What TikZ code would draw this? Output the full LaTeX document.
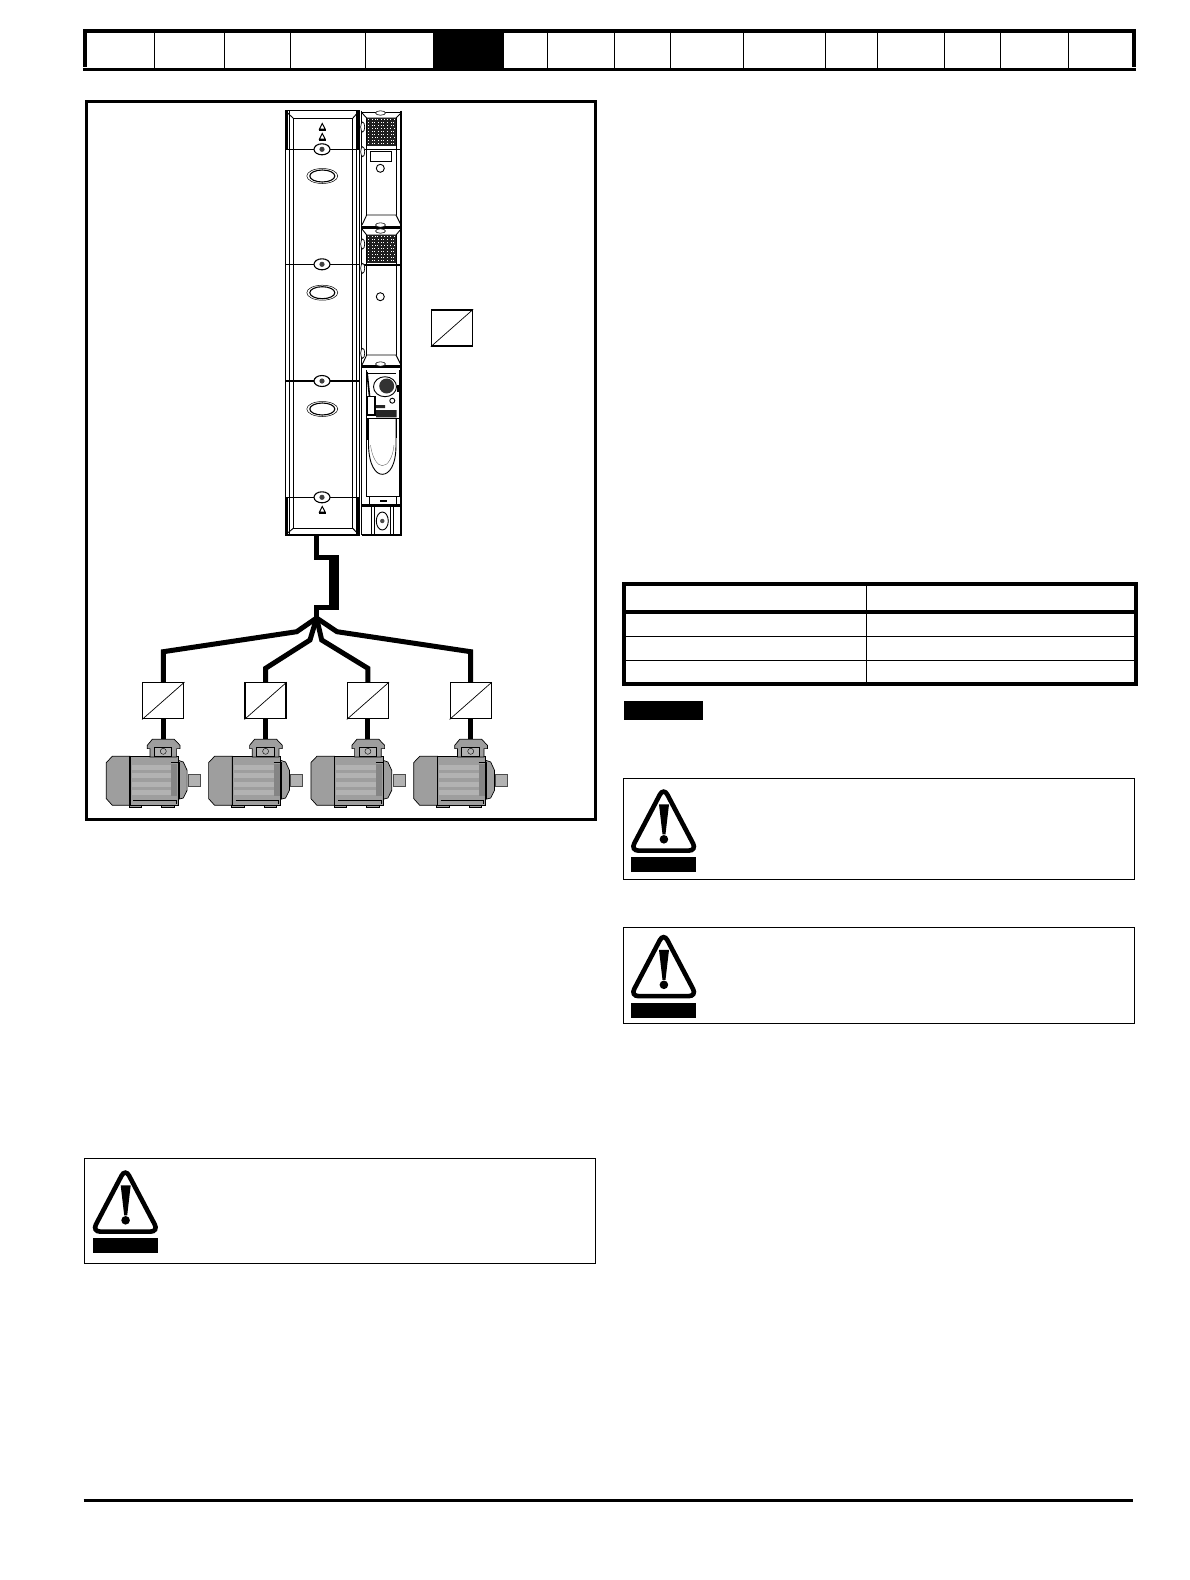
\documentclass[tikz,border=0pt]{standalone}
\usepackage{tikz}
\usetikzlibrary{positioning}

\definecolor{motorgray}{gray}{0.62}
\definecolor{motorlight}{gray}{0.70}
\definecolor{motordark}{gray}{0.52}

\tikzset{
  wire/.style={line width=5pt,line join=miter},
  conv box/.style={rectangle,draw,fill=white,line width=1.3pt,minimum width=41pt,minimum height=36pt,inner sep=0pt},
  warn frame/.style={draw,line width=1pt},
  panel line/.style={line width=0.9pt},
  motor line/.style={draw=black,line width=0.7pt,fill=motorgray},
  motor/.pic={
    \draw[motor line] (-57,23.3) -- (-51,17) -- (-33.3,17) -- (-33.3,66) -- (-51,66) -- (-57,59.3) -- cycle;
    \draw[motor line] (-34,66) rectangle (-21.7,68.3);
    \draw[motor line] (-1.7,66) rectangle (11,68.3);
    \draw[line width=0.5pt,draw=black!70,fill=motorlight] (25,35) rectangle (37,46.7);
    \draw[motor line] (15,21) -- (20,22.7) -- (23.8,31) -- (23.8,51) -- (20,58.7) -- (15,60) -- cycle;
    \draw[motor line] (-33.3,17) rectangle (15,66);
    \foreach \top/\bot in {26/31,34/39,42.5/47.5,51/56}
      \fill[motorlight] (-31.5,\top) rectangle (8,\bot);
    \fill[motordark] (8,25) rectangle (14,57);
    \draw[line width=1.4pt] (-33.3,17) -- (-33.3,66);
    \draw[line width=0.6pt] (-30,60.5) -- (13,60.5) -- (13,65);
    \draw[line width=0.6pt] (8,23) -- (15.5,23) -- (15.5,60);
    \draw[motor line] (-16,6) -- (-11,0) -- (11,0) -- (16.7,6) -- (16.7,9.3) -- (13.3,9.3) -- (13.3,17.7) -- (-13.3,17.7) -- (-13.3,9.3) -- (-16,9.3) -- cycle;
    \draw[motor line,fill=motorlight] (-9,7.7) rectangle (8.3,16.7);
    \draw[line width=0.4pt] (0,12) circle (3pt);
  },
  warnsign/.pic={
    \fill (0,0) rectangle (64.7,15);
    \draw[line width=4.6pt,rounded corners=8pt] (32.3,-69.5) -- (-0.8,-6.4) -- (65.5,-6.4) -- cycle;
    \fill (27.7,-52.7) -- (37.7,-52.7) -- (34.2,-22.7) -- (31.2,-22.7) -- cycle;
    \fill (32.6,-17.7) circle (4.3pt);
  },
  knob/.pic={
    \draw[line width=1.1pt,fill=white] (0,0) ellipse (8pt and 5.5pt);
    \fill[black!75] (0,0) circle (2.6pt);
  },
  big oval/.pic={
    \draw[line width=0.5pt,fill=white] (0,0) ellipse (15.5pt and 7.5pt);
    \draw[line width=1.1pt] (0,0) ellipse (12.5pt and 6pt);
  },
  warn mark/.pic={
    \draw[line width=1pt,fill=white] (0,-3.5) -- (2.8,2) -- (-2.8,2) -- cycle;
    \fill (-3.4,1.6) rectangle (3.4,3.6);
  },
  grille/.pic={
    \fill[black!88] (0,0) rectangle (29.3,27.8);
    \foreach \row in {0,...,8}
      \foreach \col in {0,...,8} {
        \pgfmathsetmacro{\shift}{mod(\row*\row+\col,3)}
        \fill[white] ({1.2+\col*3.1+\shift*0.5},{1.4+\row*3}) rectangle +(0.9,0.9);
      }
  }
}

\begin{document}
\begin{tikzpicture}[x=1pt,y=-1pt]

  \useasboundingbox (0,0) rectangle (1190,1580);

  % header strip
  \fill (83,29) rectangle (1136,32.7);
  \fill (83,67.7) rectangle (1136,70.7);
  \fill (83,29) rectangle (87,66.7);
  \fill (1131.7,29) rectangle (1136,66.7);
  \fill (432.9,29) rectangle (503.6,70);
  \foreach \xpos in {154.6,224.6,290.4,365.7,547.5,614.6,670.7,743.3,825.7,877.3,944.3,1000.3,1068.7}
    \draw[line width=0.9pt] (\xpos,32) -- (\xpos,68);

  % figure frame
  \draw[line width=3pt] (86,101.5) rectangle (595,819);

  % left module
  \draw[line width=1.3pt] (285.8,110.7) rectangle (359.3,535);
  \fill (285.3,110.7) rectangle (288,149);
  \fill (285.3,497) rectangle (288,535);
  \fill (356,110.7) rectangle (358.5,149);
  \fill (356,497) rectangle (358.5,535);
  \draw[panel line] (289.3,110.7) -- (289.3,535) (356.5,110.7) -- (356.5,535);
  \draw[panel line] (293.3,118.3) rectangle (352.7,528.3);
  \draw[panel line] (285.3,110.7) -- (293.3,118.3) (359.3,110.7) -- (352.7,118.3);
  \draw[panel line] (285.3,535) -- (293.3,528.3) (359.3,535) -- (352.7,528.3);
  \foreach \ypos in {149.3,264.3,381,497.3} {
    \draw[line width=1.1pt] (285.3,\ypos) -- (359.3,\ypos);
    \pic at (322,\ypos) {knob};
  }
  \foreach \ypos in {176,292.7,409}
    \pic at (322.3,\ypos) {big oval};
  \foreach \ypos in {127,137,510}
    \pic at (322.3,\ypos) {warn mark};

  % right module
  \draw[line width=1.8pt] (361.5,110.7) -- (361.5,535);
  \draw[line width=1.8pt] (400.8,110.7) -- (400.8,535) -- (361.5,535);
  \draw[line width=1.5pt] (361.5,112.7) -- (400.8,112.7);
  \foreach \ypos in {227.5,366.5,505.5}
    \draw[line width=3pt] (361.5,\ypos) -- (400.8,\ypos);
  \draw[panel line] (366.7,118) -- (366.7,215) (396,118) -- (396,215);
  \draw[panel line] (366.7,235) -- (366.7,355) (396,235) -- (396,355);
  \draw[panel line] (362,113) -- (366.7,118) -- (396,118) -- (401,113);
  \draw[panel line] (362,225) -- (366.7,215) -- (396,215) -- (401,225);
  \draw[panel line] (362,229) -- (366.7,235) -- (396,235) -- (401,229);
  \draw[panel line] (362,365) -- (366.7,355) -- (396,355) -- (401,365);
  \pic at (366.7,118) {grille};
  \pic at (366.7,235) {grille};
  \draw[line width=0.9pt] (361.5,149.3) -- (400.8,149.3);
  \draw[line width=1.4pt] (361.5,265) -- (400.8,265);
  \draw[panel line] (370,151) rectangle (391.7,161.7);
  \draw[panel line] (380.3,168.3) circle (4pt);
  \draw[panel line] (380.3,296.7) circle (4pt);
  \foreach \xpos/\ypos in {380.5/113,380.5/225,380.5/231,380.5/364}
    \draw[line width=0.6pt,fill=white] (\xpos,\ypos) ellipse (5pt and 2.2pt);
  \foreach \ypos in {127,151.7,244,268.3,353.3}
    \draw[line width=0.7pt,fill=white] (362.7,\ypos) ellipse (2pt and 5pt);

  % control panel
  \draw[panel line] (366,370) -- (366,496.7) (399,370) -- (399,496.7);
  \draw[panel line] (368,373) -- (396,373);
  \draw[line width=1.6pt] (367,372) -- (369.5,396);
  \draw[line width=1.6pt] (398,385) -- (398,392);
  \draw[panel line] (385,386.7) ellipse (11.5pt and 10pt);
  \fill[black!80] (386.7,386) circle (7.5pt);
  \draw[panel line] (392.3,400.7) circle (2.5pt);
  \draw[line width=1.4pt] (367.3,396.7) rectangle (375,415);
  \fill[black!85] (376,405) rectangle (385,408) (376,410) rectangle (396.7,417.3);
  \draw[panel line] (366,418.3) -- (399,418.3);
  \draw[panel line] (368.5,418.3) -- (368.5,445) .. controls (369,466) and (376,474.3) .. (382.3,474.3) .. controls (389,474.3) and (396,466) .. (396,445) -- (396,418.3);
  \draw[line width=0.4pt,black!60] (370.5,445) .. controls (372,457) and (377,465.7) .. (382.3,465.7) .. controls (388,465.7) and (393,457) .. (394,445);
  \draw[line width=1.6pt] (368,419) -- (368,440) (396.5,419) -- (396.5,438);
  \draw[panel line] (366,496.7) -- (399,496.7) (369,497) -- (369,504) (396,497) -- (396,504);
  \fill (380,499.5) rectangle (387,502);

  % lower block
  \foreach \xpos in {371.7,374,390.7,393.3}
    \draw[line width=0.7pt] (\xpos,506) -- (\xpos,535);
  \draw[line width=0.9pt,fill=white] (382.3,521) ellipse (6pt and 9pt);
  \fill[black!70] (382.3,521) circle (2.2pt);

  % cable from drive to the branch point
  \coordinate (driveout) at (316.6,535);
  \coordinate (branch) at (316.6,618);
  \fill (329.3,555) rectangle (338.8,610);
  \draw[wire] (driveout) -- (316.6,557.5) -- (331,557.5);
  \draw[wire] (331,607.5) -- (316.6,607.5) -- (branch);

  % converters
  \node[conv box] (conv1) at (163.3,700.8) {};
  \node[conv box] (conv2) [right=60pt of conv1] {};
  \node[conv box] (conv3) [right=60pt of conv2] {};
  \node[conv box] (conv4) [right=60.5pt of conv3] {};
  \node[conv box] (convd) at (452,328) {};
  \foreach \n in {1,2,3,4,d}
    \draw[line width=0.7pt] (conv\n.south west) -- (conv\n.north east);

  % branches
  \draw[wire] (branch) -- (296.7,631.7) -- (conv1.north |- 0,651.7) -- (conv1.north);
  \draw[wire] (branch) -- (310,640) -- (conv2.north |- 0,668.3) -- (conv2.north);
  \draw[wire] (branch) -- (321.7,640) -- (conv3.north |- 0,668.3) -- (conv3.north);
  \draw[wire] (branch) -- (337,631.7) -- (conv4.north |- 0,651.7) -- (conv4.north);

  % motors
  \coordinate (motorline) at (0,739.3);
  \foreach \n in {1,2,3,4} {
    \coordinate (m\n) at (conv\n.south |- motorline);
    \draw[wire] (conv\n.south) -- (m\n);
    \pic at (m\n) {motor};
  }

  % table
  \draw[line width=3.8pt] (624,584) rectangle (1136,684.2);
  \draw[line width=3.8pt] (624,612) -- (1136,612);
  \draw[line width=1pt] (624,636.5) -- (1136,636.5) (624,660.5) -- (1136,660.5);
  \draw[line width=1pt] (866,584) -- (866,684);

  % note tag
  \fill (624,701) rectangle (702.7,720);

  % warning boxes
  \draw[warn frame] (623.3,778.3) rectangle (1134,879.3);
  \pic at (631.3,857) {warnsign};
  \draw[warn frame] (623.3,927.5) rectangle (1134,1023);
  \pic at (631.3,1002.5) {warnsign};
  \draw[warn frame] (84.3,1158.3) rectangle (595.5,1263.3);
  \pic at (93,1238) {warnsign};

  % footer rule
  \draw[line width=3pt] (83.5,1500) -- (1133,1500);

\end{tikzpicture}
\end{document}
